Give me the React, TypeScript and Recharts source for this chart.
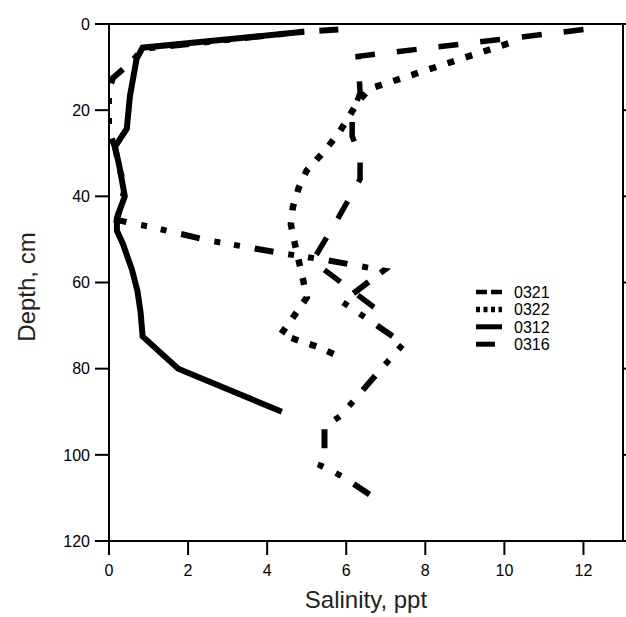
import { Legend, Line, LineChart, XAxis, YAxis } from "recharts";

// salinity (ppt) against depth (cm), one pair of arrays per core
const depth0321 = [1.3, 7.5, 16, 21, 26, 31, 36, 45, 55, 67.8];
const sal0321 = [12.0, 6.3, 6.35, 6.15, 6.15, 6.35, 6.35, 5.8, 5.15, 7.0];

const depth0322 = [4.5, 15, 18, 25.5, 30, 34, 38, 42.5, 46.5, 51, 55, 59, 63.5, 67.5, 72, 73.5, 75, 77.3];
const sal0322 = [10.1, 6.6, 6.3, 5.8, 5.4, 5.0, 4.8, 4.65, 4.6, 4.7, 4.8, 4.9, 5.0, 4.7, 4.35, 4.8, 5.3, 5.85];

const depth0312 = [1.8, 5.5, 8, 16.7, 24.3, 28.5, 32.5, 40, 45, 48, 51, 57, 62, 67, 72.5, 80, 90];
const sal0312 = [4.92, 0.85, 0.7, 0.53, 0.45, 0.15, 0.25, 0.4, 0.2, 0.2, 0.35, 0.58, 0.72, 0.8, 0.85, 1.75, 4.37];

const depth0316 = [1.3, 1.8, 5.8, 9, 12.5, 15.5, 25, 28.5, 33, 38, 42, 45.5, 47.4, 50.2, 53.1, 54.8, 57.2, 64.5, 74.2, 82, 91, 93.5, 100, 102.5, 105, 110.5];
const sal0316 = [5.8, 4.92, 0.85, 0.55, 0.1, 0, 0, 0.15, 0.25, 0.4, 0.3, 0.2, 1.2, 2.5, 4.3, 5.5, 6.95, 5.9, 7.45, 6.7, 5.85, 5.45, 5.45, 5.35, 5.9, 6.8];

const xTicks = [0, 2, 4, 6, 8, 10, 12];
const yTicks = [0, 20, 40, 60, 80, 100, 120];

const font = "'Liberation Sans', Arial, sans-serif";
const axisLine = { stroke: "#000", strokeWidth: 2 };

const pairs = (depth: number[], sal: number[]) => depth.map((d, i) => ({ s: sal[i], d }));

const series = [
  { name: "0321", data: pairs(depth0321, sal0321), dash: "20 22", width: 5.5, key: "11 4" },
  { name: "0322", data: pairs(depth0322, sal0322), dash: "7 12", width: 6.5, key: "4 3.5" },
  { name: "0312", data: pairs(depth0312, sal0312), dash: undefined, width: 6, key: undefined },
  { name: "0316", data: pairs(depth0316, sal0316), dash: "19 15 6 14 6 15", width: 6, key: "19 40" },
];

function LegendBox() {
  return (
    <svg width={110} height={72}>
      {series.map((s, i) => (
        <g key={s.name} transform={`translate(0, ${8 + i * 17.4})`}>
          <line x1={0} x2={26} y1={0} y2={0} stroke="#000" strokeWidth={s.width - 1} strokeDasharray={s.key} />
          <text x={38} y={6} fontSize={16} fontFamily={font} fill="#000">
            {s.name}
          </text>
        </g>
      ))}
    </svg>
  );
}

const noLabel = () => <g />;

export default function App() {
  return (
    <div style={{ position: "absolute", left: 0, top: 0, background: "#fff" }}>
      <LineChart width={626} height={617} margin={{ top: 0, right: 0, bottom: 0, left: 0 }}>
        <XAxis
          xAxisId="bottom"
          dataKey="s"
          type="number"
          domain={[0, 13]}
          ticks={xTicks}
          allowDataOverflow
          height={76}
          tickSize={14}
          tickMargin={10}
          axisLine={axisLine}
          tickLine={axisLine}
          tick={{ fill: "#000", fontSize: 16, fontFamily: font }}
          label={{
            content: ({ viewBox }: any) => (
              <text
                x={viewBox.x + viewBox.width / 2}
                y={viewBox.y + 67}
                textAnchor="middle"
                fontSize={24}
                fontFamily={font}
                fill="#222"
              >
                Salinity, ppt
              </text>
            ),
          }}
        />
        <XAxis
          xAxisId="top"
          orientation="top"
          type="number"
          domain={[0, 13]}
          ticks={xTicks}
          allowDataOverflow
          height={24}
          tickSize={14}
          axisLine={axisLine}
          tickLine={axisLine}
          tick={noLabel}
        />
        <YAxis
          yAxisId="left"
          type="number"
          domain={[0, 120]}
          reversed
          ticks={yTicks}
          allowDataOverflow
          width={109}
          tickSize={14}
          tickMargin={5}
          axisLine={axisLine}
          tickLine={axisLine}
          tick={{ fill: "#000", fontSize: 16, fontFamily: font }}
          label={{
            content: ({ viewBox }: any) => (
              <text
                x={26}
                y={287}
                transform="rotate(-90, 26, 287)"
                textAnchor="middle"
                dominantBaseline="central"
                fontSize={24}
                fontFamily={font}
                fill="#222"
              >
                Depth, cm
              </text>
            ),
          }}
        />
        <YAxis
          yAxisId="right"
          orientation="right"
          type="number"
          domain={[0, 120]}
          reversed
          ticks={yTicks}
          allowDataOverflow
          width={3}
          tickSize={6}
          axisLine={axisLine}
          tickLine={axisLine}
          tick={noLabel}
        />
        <Legend
          layout="vertical"
          align="center"
          verticalAlign="middle"
          content={() => <LegendBox />}
          wrapperStyle={{ position: "absolute", left: 476, top: 284, width: 110, height: 72 }}
        />
        {series.map((s) => (
          <Line
            key={s.name}
            name={s.name}
            data={s.data}
            dataKey="d"
            xAxisId="bottom"
            yAxisId="left"
            stroke="#000"
            strokeWidth={s.width}
            strokeDasharray={s.dash}
            strokeLinecap="butt"
            dot={false}
            activeDot={false}
            isAnimationActive={false}
          />
        ))}
      </LineChart>
    </div>
  );
}
